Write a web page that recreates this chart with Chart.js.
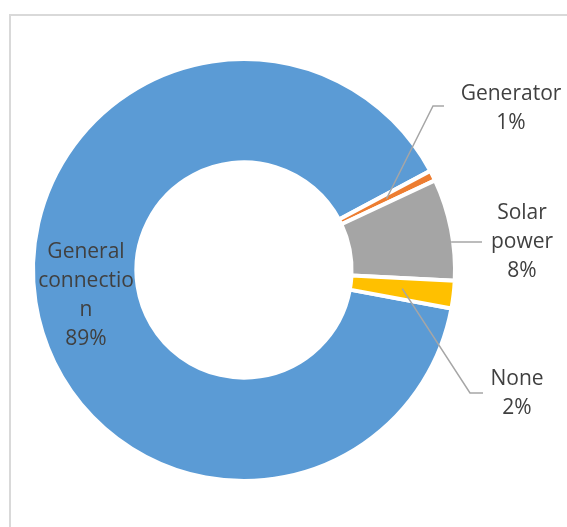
<!DOCTYPE html>
<html>
<head>
<meta charset="utf-8">
<script src="https://cdn.jsdelivr.net/npm/chart.js@4.4.1/dist/chart.umd.min.js"></script>
<style>
  html, body { margin: 0; padding: 0; background: #fff; }
  #wrap { position: relative; width: 567px; height: 527px; overflow: hidden; }
  #frame { position: absolute; left: 9px; top: 14px; width: 700px; height: 700px;
           border-left: 2px solid #d9d9d9; border-top: 2px solid #d9d9d9; }
  #box { position: absolute; left: 0; top: 0; width: 567px; height: 527px; }
</style>
</head>
<body>
<div id="wrap">
  <div id="frame"></div>
  <div id="box"><canvas id="chart"></canvas></div>
</div>
<script>
// data (shares in %)
const categories = ['General connection', 'Generator', 'Solar power', 'None'];
const shares = [89.3, 0.8, 7.8, 2.1];
const sliceColors = ['#5b9bd5', '#ed7d31', '#a5a5a5', '#ffc000'];
// how Excel wrapped each label
const labelLines = [['General', 'connectio', 'n'], ['Generator'], ['Solar', 'power'], ['None']];

// label placement, offsets from the doughnut centre
const labelLayout = [
    { x: -158, y: -18, leader: null },
    { x: 267, y: -176, leader: { from: 'centroid', elbow: [189, -164], end: [200, -164] } },
    { x: 278, y: -57, leader: { from: 'edge', elbow: null, end: [238, -28] } },
    { x: 273, y: 109, leader: { from: 'centroid', elbow: [226, 123], end: [239, 123] } }
];

const lineHeight = 29;

// 🏷️ draw data labels + leader lines like the Excel original
const excelLabels = {
    id: 'excelLabels',
    afterDatasetsDraw(chart) {
        const ctx = chart.ctx;
        const meta = chart.getDatasetMeta(0);
        const total = shares.reduce((a, b) => a + b, 0);

        meta.data.forEach((arc, i) => {
            const cx = arc.x, cy = arc.y;
            const lay = labelLayout[i];

            if (lay.leader) {
                const ld = lay.leader;
                let start;
                if (ld.from === 'centroid') {
                    const p = arc.tooltipPosition();
                    start = [p.x, p.y];
                } else {
                    // point on the outer edge at the height of the leader
                    const r = arc.outerRadius - 2;
                    const dy = ld.end[1];
                    start = [cx + Math.sqrt(r * r - dy * dy), cy + dy];
                }
                ctx.save();
                ctx.strokeStyle = '#a6a6a6';
                ctx.lineWidth = 1.5;
                ctx.beginPath();
                ctx.moveTo(start[0], start[1]);
                if (ld.elbow) ctx.lineTo(cx + ld.elbow[0], cy + ld.elbow[1]);
                ctx.lineTo(cx + ld.end[0], cy + ld.end[1]);
                ctx.stroke();
                ctx.restore();
            }

            const pct = Math.round(shares[i] / total * 100) + '%';
            const lines = labelLines[i].concat([pct]);
            ctx.save();
            ctx.fillStyle = '#404040';
            ctx.font = '21px "Open Sans", sans-serif';
            ctx.textAlign = 'center';
            ctx.textBaseline = 'middle';
            lines.forEach((t, k) => {
                ctx.fillText(t, cx + lay.x, cy + lay.y + k * lineHeight);
            });
            ctx.restore();
        });
    }
};

function renderChart() {
    const ctx = document.getElementById('chart').getContext('2d');

    new Chart(ctx, {
        type: 'doughnut',
        data: {
            labels: categories,
            datasets: [{
                data: shares,
                backgroundColor: sliceColors,
                borderColor: '#ffffff',
                borderWidth: 4,
                hoverBorderWidth: 4,
                hoverOffset: 0
            }]
        },
        options: {
            responsive: true,
            maintainAspectRatio: false,
            animation: false,
            rotation: 100.5,
            cutout: '51%',
            layout: { padding: { left: 31, right: 110, top: 57, bottom: 44 } },
            plugins: {
                legend: { display: false },
                tooltip: { enabled: false }
            }
        },
        plugins: [excelLabels]
    });
}

document.addEventListener('DOMContentLoaded', renderChart);
</script>
</body>
</html>
